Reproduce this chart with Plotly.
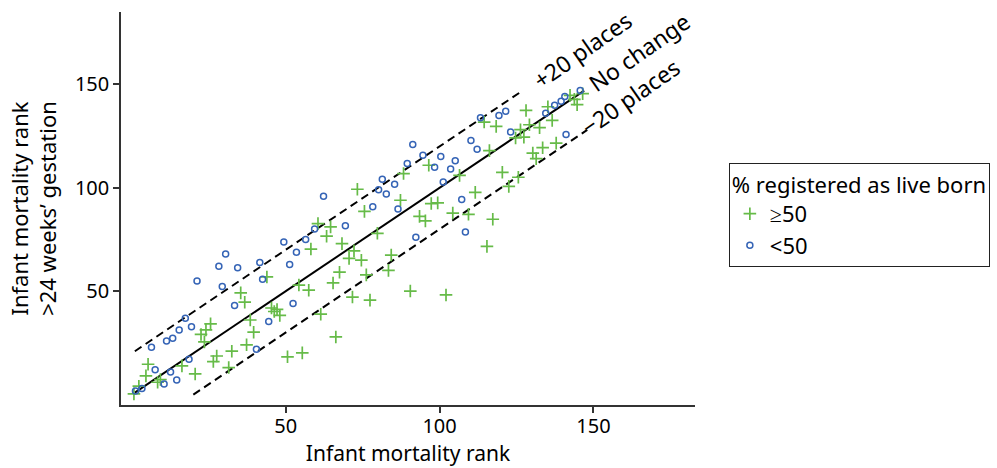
import plotly.graph_objects as go

# ---- data (ranks) ----
green_x = [0.7, 2.3, 4.6, 5.3, 8.4, 9.3, 16.3, 20.6, 22.5, 23.6, 24.1, 25.6, 26.5, 27.6, 31.5, 32.5,
           35.4, 36.7, 37.3, 38.5, 39.6, 43.9, 45.4, 47.2, 46.3, 48.1, 50.6, 54.3, 55.4, 57.5, 58.2,
           60.5, 61.4, 63.3, 64.6, 65.4, 66.3, 67.5, 68.3, 70.6, 71.7, 72.2, 73.3, 74.6, 75.6, 76.2,
           77.4, 79.8, 83.4, 84.3, 87.3, 88.3, 90.5, 93.5, 95.4, 96.5, 97.3, 99.4, 102.1, 104.3,
           106.5, 109.4, 111.6, 114.5, 115.4, 116.2, 117.3, 118.4, 120.4, 122.5, 124.7, 125.6,
           126.3, 127.4, 128.1, 129.2, 130.3, 131.4, 132.5, 133.5, 135.2, 136.6, 137.9, 142.4,
           143.8, 144.7, 146.5]
green_y = [0.4, 4.1, 9.1, 14.7, 6.0, 7.3, 13.9, 10.0, 29.1, 25.5, 31.3, 34.2, 16.0, 18.7, 13.1, 21.0,
           49.2, 44.7, 24.1, 36.1, 30.2, 56.9, 41.9, 41.2, 40.2, 38.3, 18.3, 53.0, 20.2, 50.5, 70.4,
           82.7, 38.9, 76.6, 81.1, 54.0, 27.9, 59.2, 73.0, 65.9, 47.2, 69.5, 99.3, 65.0, 88.6, 57.9,
           45.7, 78.0, 60.1, 67.5, 94.0, 106.9, 50.1, 86.2, 84.0, 110.9, 92.4, 92.7, 48.2, 87.8,
           106.0, 87.2, 97.8, 131.8, 71.7, 118.0, 84.8, 129.7, 107.5, 100.7, 124.1, 105.1,
           128.1, 124.5, 137.4, 130.5, 116.8, 114.1, 129.1, 119.4, 139.2, 132.6, 121.6, 144.7,
           142.8, 140.2, 145.5]

blue_x = [1.2, 3.3, 7.6, 6.4, 10.5, 12.6, 14.6, 11.3, 13.3, 15.4, 17.4, 19.4, 18.6, 21.2, 28.3, 29.4,
          30.5, 34.4, 33.4, 41.6, 42.5, 40.5, 44.5, 49.4, 51.3, 52.4, 53.5, 56.5, 59.4, 62.3, 69.4,
          78.3, 86.5, 81.4, 80.2, 82.7, 85.4, 89.5, 91.3, 92.3, 94.6, 100.4, 98.4, 105.1, 103.6,
          101.2, 110.2, 112.2, 107.2, 108.4, 113.3, 119.3, 121.5, 123.1, 134.5, 137.4, 139.5,
          140.7, 145.7, 141.1]
blue_y = [1.8, 3.0, 12.0, 22.9, 5.1, 10.9, 7.1, 26.0, 27.3, 31.3, 37.0, 32.8, 17.1, 55.0, 62.1, 52.3,
          68.0, 61.3, 43.1, 63.9, 55.8, 22.0, 35.4, 73.8, 62.9, 44.1, 68.8, 75.0, 80.1, 95.9, 81.7,
          90.9, 89.8, 104.1, 99.1, 97.0, 101.7, 111.8, 120.9, 76.1, 115.7, 115.1, 109.9, 113.1, 109.1,
          102.8, 122.9, 118.7, 94.4, 78.6, 133.9, 135.0, 137.0, 127.0, 136.1, 139.9, 141.9,
          144.1, 147.1, 125.8]

# reference lines: y = x + offset
no_change_x = [1, 147]
plus20_x = [1, 127]
minus20_x = [20, 148]
offset_plus = 20
offset_minus = -20

series_names = ["≥50", "<50"]
legend_title = "% registered as live born"
x_title = "Infant mortality rank"
y_title = "Infant mortality rank<br>>24 weeks’ gestation"
tick_vals = [50, 100, 150]

FONT = "Noto Sans"
GREEN = "#66bb48"
BLUE = "#3564b6"

fig = go.Figure()

fig.add_trace(go.Scatter(x=no_change_x, y=no_change_x, mode="lines",
                         line=dict(color="black", width=2), showlegend=False, hoverinfo="skip"))
fig.add_trace(go.Scatter(x=plus20_x, y=[v + offset_plus for v in plus20_x], mode="lines",
                         line=dict(color="black", width=2, dash="8px,5px"),
                         showlegend=False, hoverinfo="skip"))
fig.add_trace(go.Scatter(x=minus20_x, y=[v + offset_minus for v in minus20_x], mode="lines",
                         line=dict(color="black", width=2, dash="8px,5px"),
                         showlegend=False, hoverinfo="skip"))

fig.add_trace(go.Scatter(x=green_x, y=green_y, mode="markers", name=series_names[0],
                         marker=dict(symbol="cross-thin-open", size=9,
                                     line=dict(color=GREEN, width=1.7), color=GREEN)))
fig.add_trace(go.Scatter(x=blue_x, y=blue_y, mode="markers", name=series_names[1],
                         marker=dict(symbol="circle-open", size=6,
                                     line=dict(color=BLUE, width=1.5), color=BLUE)))

ann_font = dict(family=FONT, size=23, color="black")
fig.add_annotation(x=146.4, y=166.4, text="+20 places", showarrow=False, textangle=-35,
                   font=ann_font, xanchor="center", yanchor="middle")
fig.add_annotation(x=164.9, y=165.5, text="No change", showarrow=False, textangle=-35,
                   font=ann_font, xanchor="center", yanchor="middle")
fig.add_annotation(x=162.0, y=143.7, text="−20 places", showarrow=False, textangle=-35,
                   font=ann_font, xanchor="center", yanchor="middle")

axis_common = dict(showgrid=False, zeroline=False, showline=True, linecolor="#333333",
                   linewidth=1.5, ticks="outside", ticklen=6, tickwidth=1.5, tickcolor="#333333",
                   tickvals=tick_vals, automargin=True,
                   tickfont=dict(family=FONT, size=20, color="black"))

fig.update_layout(
    width=997, height=468,
    margin=dict(l=121, r=302, t=12, b=63, pad=0, autoexpand=False),
    paper_bgcolor="white", plot_bgcolor="white",
    font=dict(family=FONT, color="black"),
    xaxis=dict(range=[-3.5, 183], ticklabelstandoff=-4,
               title=dict(text=x_title, font=dict(family=FONT, size=21), standoff=4),
               **axis_common),
    yaxis=dict(range=[-5, 185],
               title=dict(text=y_title, font=dict(family=FONT, size=22), standoff=12),
               **axis_common),
    legend=dict(x=1.059, y=0.615, xanchor="left", yanchor="top",
                title=dict(text=legend_title, font=dict(family=FONT, size=22)),
                font=dict(family=FONT, size=22), bordercolor="#222222", borderwidth=1,
                bgcolor="white", tracegroupgap=0, itemwidth=30),
)

fig.write_html("out.html", config={"displayModeBar": False})
